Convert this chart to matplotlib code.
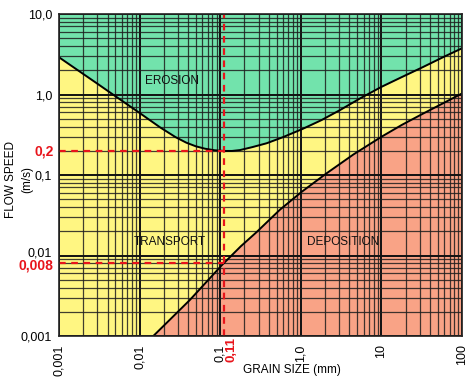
import matplotlib
matplotlib.use("Agg")
import matplotlib.pyplot as plt
from matplotlib.ticker import LogLocator, NullFormatter, FixedLocator, FixedFormatter
from matplotlib.transforms import blended_transform_factory, ScaledTranslation

plt.rcParams['font.family'] = ['Liberation Sans', 'DejaVu Sans']

# Erosion threshold curve (grain size mm, flow speed m/s)
erosion_x = [0.001, 0.003, 0.006, 0.01, 0.018, 0.028, 0.038, 0.05, 0.065, 0.085, 0.11, 0.14, 0.176, 0.25, 0.377,
             0.6, 1.03, 1.8, 3.06, 5.5, 10.1, 18, 33, 60, 100]
erosion_y = [2.9, 1.36, 0.84, 0.59, 0.39, 0.295, 0.252, 0.227, 0.212, 0.203, 0.199, 0.199, 0.204, 0.222, 0.248,
             0.295, 0.37, 0.48, 0.64, 0.90, 1.25, 1.65, 2.2, 2.95, 3.75]

# Deposition (settling) curve
deposition_x = [0.0148, 0.042, 0.105, 0.18, 0.284, 0.55, 1.03, 2.09, 4.5, 10.1, 18, 33, 60, 100]
deposition_y = [0.001, 0.0028, 0.0076, 0.013, 0.0196, 0.037, 0.062, 0.105, 0.18, 0.30, 0.42, 0.58, 0.79, 1.03]

x_ticks = [0.001, 0.01, 0.1, 1.0, 10, 100]
x_tick_labels = ["0,001", "0,01", "0,1", "1,0", "10", "100"]
y_ticks = [0.001, 0.01, 0.1, 1.0, 10.0]
y_tick_labels = ["0,001", "0,01", "0,1", "1,0", "10,0"]

example_size = 0.11
example_speeds = [0.2, 0.008]
example_speed_labels = ["0,2", "0,008"]
example_size_label = "0,11"

region_labels = ["EROSION", "TRANSPORT", "DEPOSITION"]
region_pos = [(0.025, 1.47), (0.0234, 0.0148), (3.34, 0.0148)]

green = '#72E3AC'
yellow = '#FFF682'
salmon = '#F9A386'

fig = plt.figure(figsize=(4.74, 3.82), dpi=100)
ax = fig.add_axes([59/474, 1-336/382, (462-59)/474, (336-14)/382])
ax.set_xscale('log')
ax.set_yscale('log')
ax.set_xlim(0.001, 100)
ax.set_ylim(0.001, 10)
ax.set_facecolor(yellow)

ax.fill_between(erosion_x, erosion_y, 10, color=green, zorder=1, lw=0)
ax.fill_between(deposition_x, 0.001, deposition_y, color=salmon, zorder=1, lw=0)

ax.xaxis.set_minor_locator(LogLocator(base=10, subs=range(2, 10), numticks=20))
ax.yaxis.set_minor_locator(LogLocator(base=10, subs=range(2, 10), numticks=20))
ax.xaxis.set_minor_formatter(NullFormatter())
ax.yaxis.set_minor_formatter(NullFormatter())
ax.set_axisbelow(False)
ax.grid(True, which='major', color='#111111', lw=1.4, zorder=2)
ax.grid(True, which='minor', color='#1e1e1e', lw=0.9, alpha=0.85, zorder=2)

ax.plot(erosion_x, erosion_y, color='black', lw=1.4, zorder=4)
ax.plot(deposition_x, deposition_y, color='black', lw=1.4, zorder=4)

# red dashed guide lines
ax.axvline(example_size, color='#E8141B', lw=1.6, ls=(0, (3, 2.5)), zorder=5, clip_on=False)
for s in example_speeds:
    ax.plot([0.001, example_size], [s, s], color='#E8141B', lw=1.6, ls=(0, (3, 2.5)), zorder=5)

ax.xaxis.set_major_locator(FixedLocator(x_ticks))
ax.xaxis.set_major_formatter(FixedFormatter(x_tick_labels))
ax.yaxis.set_major_locator(FixedLocator(y_ticks))
ax.yaxis.set_major_formatter(FixedFormatter(y_tick_labels))
ax.tick_params(which='both', length=0)
ax.tick_params(axis='x', labelrotation=90, labelsize=9, pad=6)
ax.tick_params(axis='y', labelsize=9, pad=5)

# nudge the "0,01" label up slightly, as in the reference
fig.canvas.draw()
for t in ax.yaxis.get_major_ticks():
    if abs(t.get_loc() - 0.01) < 1e-9:
        t.label1.set_transform(t.label1.get_transform() + ScaledTranslation(0, 3.5/100, fig.dpi_scale_trans))

trans_y = blended_transform_factory(ax.transAxes, ax.transData)
offsets = [-0.5, -1.5]
for s, lab, off in zip(example_speeds, example_speed_labels, offsets):
    ax.annotate(lab, xy=(0, s), xycoords=trans_y, xytext=(-4, off), textcoords='offset points',
                ha='right', va='center', color='#E8141B', fontsize=10, fontweight='bold')
trans_x = blended_transform_factory(ax.transData, ax.transAxes)
ax.annotate(example_size_label, xy=(example_size, 0), xycoords=trans_x, xytext=(6, -1),
            textcoords='offset points', ha='center', va='top', rotation=90,
            color='#E8141B', fontsize=9.5, fontweight='bold')

for lab, (px, py) in zip(region_labels, region_pos):
    ax.text(px, py, lab, ha='center', va='center', fontsize=8.5, color='#111111', zorder=6)

for sp in ax.spines.values():
    sp.set_color('#222222')
    sp.set_linewidth(1.2)
    sp.set_zorder(6)

fig.text(292/474, 1-370/382, "GRAIN SIZE (mm)", ha='center', va='center', fontsize=8.5)
fig.text(19/474, 1-180/382, "FLOW SPEED\n(m/s)", ha='center', va='center', rotation=90,
         fontsize=8.5, multialignment='center', linespacing=1.4)

fig.savefig('out.png', dpi=100)
